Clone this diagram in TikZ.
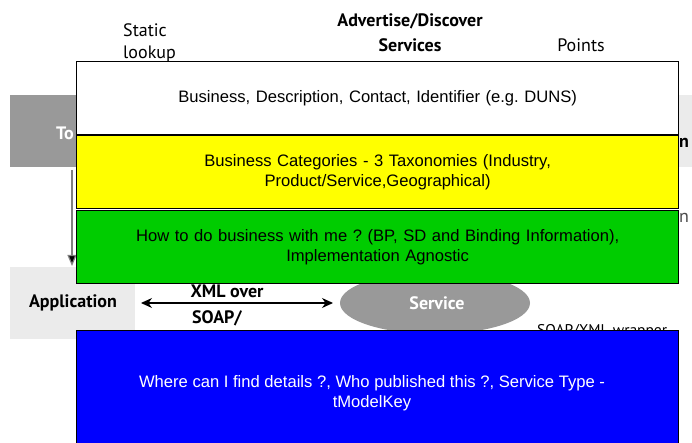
\documentclass[tikz,border=0pt]{standalone}
\usepackage{fontspec}
\setmainfont{Liberation Sans}
\newfontfamily\bgfont{PT Sans}
\usetikzlibrary{arrows.meta,shapes.geometric}
\frenchspacing
\definecolor{dgray}{HTML}{999999}
\definecolor{lgray}{HTML}{EBEBEB}
\definecolor{ygreen}{HTML}{00CC00}
\definecolor{yyellow}{HTML}{FFFF00}
\definecolor{bblue}{HTML}{0000FF}
\tikzset{
  bgtext/.style={font=\bgfont\fontsize{18}{20}\selectfont, text=black, inner sep=0pt},
  bgbold/.style={font=\bgfont\bfseries\fontsize{18}{20}\selectfont, text=black, inner sep=0pt},
  layerbox/.style={draw=black, line width=1.3pt, minimum width=602pt, minimum height=73pt,
    anchor=north west, inner sep=0pt, align=center, text width=580pt,
    font=\fontsize{16.6}{20}\selectfont},
}
\begin{document}
\begin{tikzpicture}[x=1pt,y=-1pt]
\useasboundingbox (0,0) rectangle (692,443);
\clip (0,0) rectangle (692,443);
\fill[white] (0,0) rectangle (692,443);
% background diagram
\node[bgtext, anchor=base west] (st1) at (123,37) {Static};
\node[bgtext, anchor=base west] (st2) at (123,59) {lookup};
\node[bgbold, anchor=base] (adv1) at (410,27) {Advertise/Discover};
\node[bgbold, anchor=base] (adv2) at (410,52) {Services};
\node[bgtext, anchor=base] (pts) at (581,52) {Points};
\node[fill=dgray, minimum width=90pt, minimum height=72pt, anchor=north west, inner sep=0pt] (tools) at (10,95) {};
\node[font=\bgfont\bfseries\fontsize{18}{20}\selectfont, text=white, anchor=west, inner sep=0pt] (totext) at (56,133) {To};
\node[fill=lgray, minimum width=20pt, minimum height=72pt, anchor=north west, inner sep=0pt] (reg) at (675,95) {};
\node[bgbold, anchor=west] (rn) at (679,143) {n};
\node[bgtext, text=black!70, anchor=west] (rn2) at (679,218) {n};
\coordinate (ta) at (72,170);
\coordinate (tb) at (72,266);
\draw[gray, line width=1.2pt, -{Triangle[length=11pt,width=9pt,fill=black]}] (ta) -- (tb);
\node[fill=lgray, minimum width=125pt, minimum height=72pt, anchor=north west, inner sep=0pt] (app) at (10,267) {};
\node[bgbold] (apptext) at (73,303) {Application};
\node[fill=dgray, ellipse, minimum width=190pt, minimum height=62pt, inner sep=0pt] (svc) at (435,303) {};
\node[bgbold, text=white] (svctext) at (437,303) {Service};
\coordinate (aa) at (141,303);
\coordinate (ab) at (333,303);
\draw[line width=1.2pt, {Stealth[length=11pt,width=10pt]}-{Stealth[length=11pt,width=10pt]}] (aa) -- (ab);
\node[bgbold] (xml) at (227,291) {XML over};
\node[bgbold] (soap) at (217,318) {SOAP/};
\node[bgtext, font=\bgfont\fontsize{15.5}{18}\selectfont, anchor=north west] (wrap) at (537,324.5) {SOAP/XML wrapper};
\coordinate (la) at (190,209);
\coordinate (lb) at (600,209);
\draw[gray, line width=1pt] (la) -- (lb);
% overlay boxes
\node[layerbox, fill=white] (b1) at (76,61) {Business, Description, Contact, Identifier (e.g. DUNS)};
\node[layerbox, fill=yyellow] (b2) at (76,135) {Business Categories - 3 Taxonomies (Industry,\\ Product/Service,Geographical)};
\node[layerbox, fill=ygreen] (b3) at (76,210) {How to do business with me ? (BP, SD and Binding Information),\\ Implementation Agnostic};
\node[layerbox, fill=bblue, text=white, minimum height=130pt] (b4) at (76,330) {};
\node[font=\fontsize{16.6}{20}\selectfont, text=white, align=center, inner sep=0pt] (b4text) at (372,393) {Where can I find details ?, Who published this ?, Service Type -\\ tModelKey};
\end{tikzpicture}
\end{document}
